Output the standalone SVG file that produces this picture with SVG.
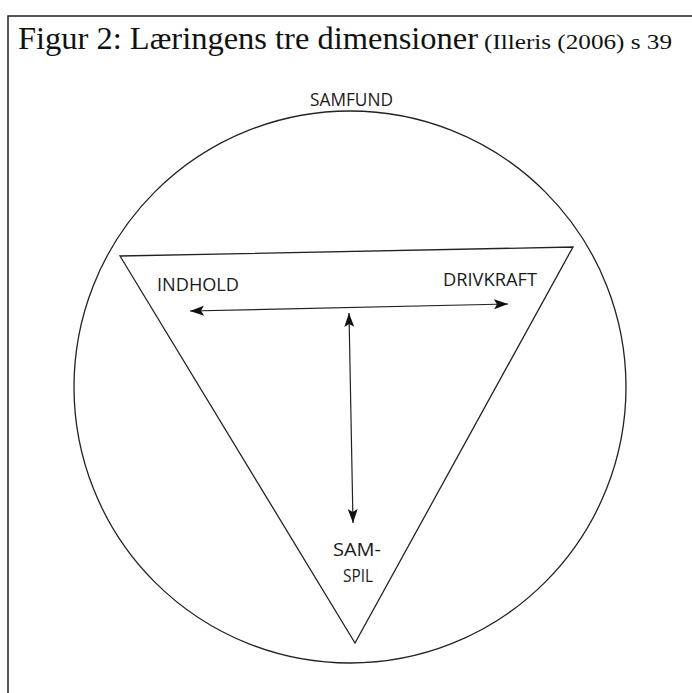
<svg xmlns="http://www.w3.org/2000/svg" width="692" height="693" viewBox="0 0 692 693">
<style>
.title{font-family:"Liberation Serif","Times New Roman",serif;fill:#111}
.lbl{font-family:"Open Sans","Noto Sans",sans-serif;font-size:18px;fill:#1a1a1a}
.shape{fill:none;stroke:#222;stroke-width:1.3}
.conn{fill:none;stroke:#222;stroke-width:1.2}
</style>
<defs>
<marker id="ah" viewBox="0 0 14 10" refX="14" refY="5" markerWidth="14" markerHeight="10" markerUnits="userSpaceOnUse" orient="auto-start-reverse">
<path d="M0,0 L14,5 L0,10 L3,5 Z" fill="#111"/>
</marker>
</defs>
<rect width="692" height="693" fill="#fff"/>
<g id="frame">
<path d="M8,700 L8,16 L692,16" fill="none" stroke="#222" stroke-width="1.5"/>
</g>
<g id="title">
<text class="title" x="18" y="49" font-size="31" textLength="460" lengthAdjust="spacingAndGlyphs">Figur 2: Læringens tre dimensioner</text>
<text class="title" x="484" y="49" font-size="21" textLength="188" lengthAdjust="spacingAndGlyphs">(Illeris (2006) s 39</text>
</g>
<g id="samfund">
<circle class="shape" cx="350" cy="387" r="276"/>
<text class="lbl" x="310" y="106" textLength="83" lengthAdjust="spacingAndGlyphs">SAMFUND</text>
</g>
<g id="triangle">
<path class="shape" d="M120,256 L573,247 L355,643 Z"/>
</g>
<g id="indhold">
<text class="lbl" x="157" y="291" textLength="82" lengthAdjust="spacingAndGlyphs">INDHOLD</text>
</g>
<g id="drivkraft">
<text class="lbl" x="443" y="286" textLength="94" lengthAdjust="spacingAndGlyphs">DRIVKRAFT</text>
</g>
<g id="samspil">
<text class="lbl" x="333" y="556" textLength="48" lengthAdjust="spacingAndGlyphs">SAM-</text>
<text class="lbl" x="343" y="582" textLength="30" lengthAdjust="spacingAndGlyphs">SPIL</text>
</g>
<g id="connectors">
<line class="conn" x1="190" y1="311" x2="508" y2="304" marker-start="url(#ah)" marker-end="url(#ah)"/>
<line class="conn" x1="349" y1="313" x2="353" y2="523" marker-start="url(#ah)" marker-end="url(#ah)"/>
</g>
</svg>
